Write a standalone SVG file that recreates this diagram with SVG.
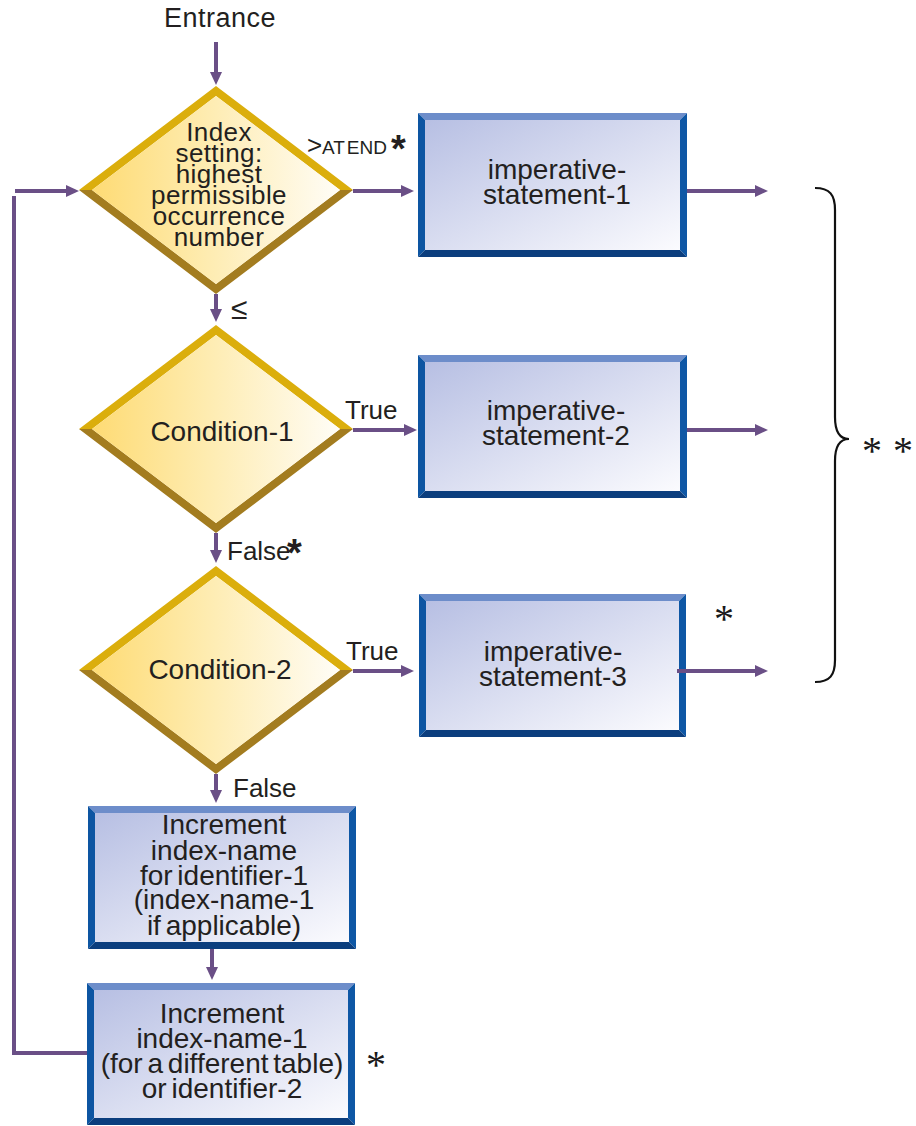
<svg xmlns="http://www.w3.org/2000/svg" width="916" height="1126" viewBox="0 0 916 1126">
<defs>
<linearGradient id="dfill" x1="0" y1="0" x2="1" y2="0">
<stop offset="0" stop-color="#FEDB74"/>
<stop offset="0.5" stop-color="#FEEDB5"/>
<stop offset="1" stop-color="#FFFDF7"/>
</linearGradient>
<linearGradient id="bfill" x1="0" y1="0" x2="1" y2="1">
<stop offset="0" stop-color="#B7BFE3"/>
<stop offset="1" stop-color="#FBFBFE"/>
</linearGradient>
<marker id="ah" markerUnits="userSpaceOnUse" markerWidth="13" markerHeight="12" refX="5" refY="6" orient="auto">
<path d="M0,0 L13,6 L0,12 z" fill="#6A4F86"/>
</marker>
</defs>
<style>
.t{font-family:"Liberation Sans",Arial,sans-serif;fill:#231F20;}
.c{text-anchor:middle;font-size:28px;}
.dt{text-anchor:middle;font-size:26px;letter-spacing:0.4px;}
.lb{font-size:26px;}
.ast{font-family:"Liberation Sans",Arial,sans-serif;font-weight:bold;font-size:38px;fill:#231F20;}
.oast{font-family:"Liberation Serif","Times New Roman",serif;font-size:40px;fill:#1a1a1a;}
.up{fill:#DBAE0C;}
.lo{fill:#A37C1F;}
.dfi{fill:url(#dfill);}
.bt{fill:#6D8DCA;}
.bl{fill:#0D55A2;}
.br{fill:#0E57A5;}
.bb{fill:#0B3E7E;}
.bfi{fill:url(#bfill);}
.cn{fill:none;stroke:#6A4F86;stroke-width:4;}
</style>

<g id="entrance-label">
<text class="t" x="220" y="27" text-anchor="middle" font-size="27" letter-spacing="0.5">Entrance</text>
</g>

<g id="decision-index">
<polygon class="up" points="79,190 216,86 353,190 340,190 216,96 92,190"/>
<polygon class="lo" points="79,190 216,294 353,190 340,190 216,284 92,190"/>
<polygon class="dfi" points="92,190 216,96 340,190 216,284"/>
<text class="t dt" x="219" y="141">Index<tspan x="219" dy="21">setting:</tspan><tspan x="219" dy="21">highest</tspan><tspan x="219" dy="21">permissible</tspan><tspan x="219" dy="21">occurrence</tspan><tspan x="219" dy="21">number</tspan></text>
</g>

<g id="decision-condition-1">
<polygon class="up" points="79,429 216,325 353,429 340,429 216,335 92,429"/>
<polygon class="lo" points="79,429 216,533 353,429 340,429 216,523 92,429"/>
<polygon class="dfi" points="92,429 216,335 340,429 216,523"/>
<text class="t c" x="222" y="441">Condition-1</text>
</g>

<g id="decision-condition-2">
<polygon class="up" points="79,670 216,566 353,670 340,670 216,576 92,670"/>
<polygon class="lo" points="79,670 216,774 353,670 340,670 216,764 92,670"/>
<polygon class="dfi" points="92,670 216,576 340,670 216,764"/>
<text class="t c" x="220" y="679">Condition-2</text>
</g>

<g id="box-imperative-1">
<polygon class="bt" points="418,113 687,113 680,120 425,120"/>
<polygon class="bl" points="418,113 425,120 425,250 418,257"/>
<polygon class="br" points="687,113 687,257 680,250 680,120"/>
<polygon class="bb" points="418,257 687,257 680,250 425,250"/>
<rect class="bfi" x="425" y="120" width="255" height="130"/>
<text class="t c" x="557" y="179">imperative-<tspan x="557" dy="25">statement-1</tspan></text>
</g>

<g id="box-imperative-2">
<polygon class="bt" points="418,355 687,355 680,362 425,362"/>
<polygon class="bl" points="418,355 425,362 425,491 418,498"/>
<polygon class="br" points="687,355 687,498 680,491 680,362"/>
<polygon class="bb" points="418,498 687,498 680,491 425,491"/>
<rect class="bfi" x="425" y="362" width="255" height="129"/>
<text class="t c" x="556" y="420">imperative-<tspan x="556" dy="25">statement-2</tspan></text>
</g>

<g id="box-imperative-3">
<polygon class="bt" points="419,594 686,594 679,601 426,601"/>
<polygon class="bl" points="419,594 426,601 426,730 419,737"/>
<polygon class="br" points="686,594 686,737 679,730 679,601"/>
<polygon class="bb" points="419,737 686,737 679,730 426,730"/>
<rect class="bfi" x="426" y="601" width="253" height="129"/>
<text class="t c" x="553" y="661">imperative-<tspan x="553" dy="25">statement-3</tspan></text>
</g>

<g id="box-increment-1">
<polygon class="bt" points="88,806 356,806 349,813 95,813"/>
<polygon class="bl" points="88,806 95,813 95,942 88,949"/>
<polygon class="br" points="356,806 356,949 349,942 349,813"/>
<polygon class="bb" points="88,949 356,949 349,942 95,942"/>
<rect class="bfi" x="95" y="813" width="254" height="129"/>
<text class="t c" x="224" y="834" word-spacing="-3">Increment<tspan x="224" dy="26">index-name</tspan><tspan x="224" dy="25">for identifier-1</tspan><tspan x="224" dy="24">(index-name-1</tspan><tspan x="224" dy="26">if applicable)</tspan></text>
</g>

<g id="box-increment-2">
<polygon class="bt" points="87,983 355,983 348,990 94,990"/>
<polygon class="bl" points="87,983 94,990 94,1118 87,1125"/>
<polygon class="br" points="355,983 355,1125 348,1118 348,990"/>
<polygon class="bb" points="87,1125 355,1125 348,1118 94,1118"/>
<rect class="bfi" x="94" y="990" width="254" height="128"/>
<text class="t c" x="222" y="1023" word-spacing="-3">Increment<tspan x="222" dy="25">index-name-1</tspan><tspan x="222" dy="25">(for a different table)</tspan><tspan x="222" dy="25">or identifier-2</tspan></text>
</g>

<g id="connectors">
<path class="cn" d="M216,42 V77" marker-end="url(#ah)"/>
<path class="cn" d="M353,191 H406" marker-end="url(#ah)"/>
<path class="cn" d="M687,191 H760" marker-end="url(#ah)"/>
<path class="cn" d="M216,294 V314" marker-end="url(#ah)"/>
<path class="cn" d="M353,430 H409" marker-end="url(#ah)"/>
<path class="cn" d="M687,430 H760" marker-end="url(#ah)"/>
<path class="cn" d="M216,533 V555" marker-end="url(#ah)"/>
<path class="cn" d="M353,671 H406" marker-end="url(#ah)"/>
<path class="cn" d="M677,671 H760" marker-end="url(#ah)"/>
<path class="cn" d="M216,774 V795" marker-end="url(#ah)"/>
<path class="cn" d="M212,949 V972" marker-end="url(#ah)"/>
<path class="cn" d="M87,1053 H14 V196"/>
<path class="cn" d="M15,191 H71" marker-end="url(#ah)"/>
</g>

<g id="labels">
<text class="t" x="307" y="154" font-size="26">&gt;</text>
<text class="t" x="322" y="154" font-size="19" word-spacing="-3">AT END</text>
<text class="ast" x="391" y="162">*</text>
<text class="t" x="231" y="319" font-size="30">≤</text>
<text class="t lb" x="345" y="419">True</text>
<text class="t lb" x="227" y="560">False</text>
<text class="ast" x="287" y="566">*</text>
<text class="t lb" x="346" y="660">True</text>
<text class="t lb" x="233" y="797">False</text>
</g>

<g id="brace">
<path d="M815,188 C830,188 835,195 835,210 L835,417 C835,432 840,439 849,439 C840,439 835,446 835,461 L835,660 C835,675 830,682 815,682" fill="none" stroke="#111" stroke-width="2.2"/>
</g>

<g id="footnote-marks">
<text class="oast" x="862" y="464">*</text>
<text class="oast" x="893" y="464">*</text>
<text class="oast" x="714" y="632">*</text>
<text class="oast" x="366" y="1078">*</text>
</g>
</svg>
